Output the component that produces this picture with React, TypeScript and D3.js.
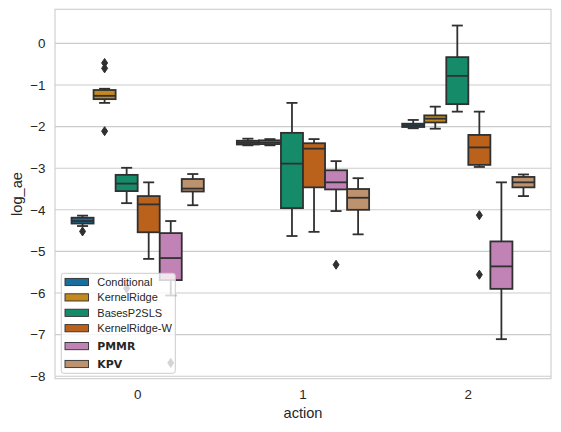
import React from "react";
import * as d3 from "d3";

type Stat = { lo: number; q1: number; med: number; q3: number; hi: number; fliers: number[] };

// x categories
const actions = ["0", "1", "2"];
// hue order
const methods = ["Conditional", "KernelRidge", "BasesP2SLS", "KernelRidge-W", "PMMR", "KPV"];
const boldMethods = ["PMMR", "KPV"];
const colors = ["#176d9c", "#c38820", "#168b6a", "#ba611b", "#c183b5", "#bd926e"];
const yTicks = [0, -1, -2, -3, -4, -5, -6, -7, -8];

// box statistics per method, one per action
const conditional: Stat[] = [
  { lo: -4.39, q1: -4.33, med: -4.27, q3: -4.19, hi: -4.14, fliers: [-4.52] },
  { lo: -2.45, q1: -2.43, med: -2.39, q3: -2.34, hi: -2.29, fliers: [] },
  { lo: -2.04, q1: -2.01, med: -1.97, q3: -1.93, hi: -1.84, fliers: [] },
];
const kernelRidge: Stat[] = [
  { lo: -1.43, q1: -1.34, med: -1.26, q3: -1.12, hi: -1.09, fliers: [-0.47, -0.6, -2.11] },
  { lo: -2.45, q1: -2.42, med: -2.38, q3: -2.33, hi: -2.3, fliers: [] },
  { lo: -2.05, q1: -1.9, med: -1.81, q3: -1.73, hi: -1.52, fliers: [] },
];
const basesP2SLS: Stat[] = [
  { lo: -3.84, q1: -3.55, med: -3.37, q3: -3.16, hi: -2.99, fliers: [-5.89] },
  { lo: -4.63, q1: -3.96, med: -2.89, q3: -2.15, hi: -1.43, fliers: [] },
  { lo: -1.64, q1: -1.46, med: -0.78, q3: -0.33, hi: 0.43, fliers: [] },
];
const kernelRidgeW: Stat[] = [
  { lo: -5.18, q1: -4.54, med: -3.87, q3: -3.67, hi: -3.34, fliers: [] },
  { lo: -4.53, q1: -3.46, med: -2.53, q3: -2.4, hi: -2.3, fliers: [] },
  { lo: -2.97, q1: -2.92, med: -2.5, q3: -2.2, hi: -1.64, fliers: [-4.13, -5.56] },
];
const pmmr: Stat[] = [
  { lo: -6.06, q1: -5.69, med: -5.16, q3: -4.56, hi: -4.27, fliers: [-7.68] },
  { lo: -4.03, q1: -3.51, med: -3.34, q3: -3.05, hi: -2.83, fliers: [-5.32] },
  { lo: -7.11, q1: -5.9, med: -5.36, q3: -4.76, hi: -3.34, fliers: [] },
];
const kpv: Stat[] = [
  { lo: -3.89, q1: -3.56, med: -3.49, q3: -3.26, hi: -3.14, fliers: [] },
  { lo: -4.59, q1: -4.0, med: -3.71, q3: -3.5, hi: -3.24, fliers: [] },
  { lo: -3.67, q1: -3.46, med: -3.34, q3: -3.21, hi: -3.15, fliers: [] },
];
const allStats = [conditional, kernelRidge, basesP2SLS, kernelRidgeW, pmmr, kpv];

const W = 561, H = 432;
const L = 55, R = 551, T = 9.3, B = 378.7;
const GRAY = "#303030";
const TEXT = "#262626";
const FONT = "'Liberation Sans', Arial, sans-serif";

export default function App() {
  const x = d3.scaleBand<string>().domain(actions).range([L, R]).paddingInner(0).paddingOuter(0);
  const hue = d3.scaleBand<string>().domain(methods).range([0, x.bandwidth() * 0.8]);
  const y = d3.scaleLinear().domain([-8.06, 0.82]).range([B, T]);
  const bw = hue.bandwidth();
  const off = x.bandwidth() * 0.1;
  const lw = 1.8;
  const fmt = (v: number) => (v < 0 ? "\u2212" + Math.abs(v) : String(v));

  const boxes: React.ReactNode[] = [];
  actions.forEach((a, ai) => {
    methods.forEach((m, mi) => {
      const s = allStats[mi][ai];
      const cx = (x(a) as number) + off + (hue(m) as number) + bw / 2;
      const x0 = cx - bw / 2;
      const capW = bw / 2;
      boxes.push(
        <g key={a + m}>
          <line x1={cx} x2={cx} y1={y(s.hi)} y2={y(s.q3)} stroke={GRAY} strokeWidth={lw} />
          <line x1={cx} x2={cx} y1={y(s.q1)} y2={y(s.lo)} stroke={GRAY} strokeWidth={lw} />
          <line x1={cx - capW / 2} x2={cx + capW / 2} y1={y(s.hi)} y2={y(s.hi)} stroke={GRAY} strokeWidth={lw} />
          <line x1={cx - capW / 2} x2={cx + capW / 2} y1={y(s.lo)} y2={y(s.lo)} stroke={GRAY} strokeWidth={lw} />
          <rect x={x0} y={y(s.q3)} width={bw} height={y(s.q1) - y(s.q3)} fill={colors[mi]} stroke={GRAY} strokeWidth={lw} />
          <line x1={x0} x2={x0 + bw} y1={y(s.med)} y2={y(s.med)} stroke={GRAY} strokeWidth={lw} />
          {s.fliers.map((f, fi) => {
            const fy = y(f);
            return (
              <path key={fi} d={`M${cx},${fy - 4.5}L${cx + 3},${fy}L${cx},${fy + 4.5}L${cx - 3},${fy}Z`} fill={GRAY} stroke={GRAY} strokeWidth={1} />
            );
          })}
        </g>
      );
    });
  });

  // legend layout
  const legX = 61.3, legY = 273.3, legW = 114, legH = 100;
  let cy = 282;
  const rows = methods.map((m, i) => {
    const bold = boldMethods.includes(m);
    if (i > 0) {
      const prevBold = boldMethods.includes(methods[i - 1]);
      cy += bold || prevBold ? 17.9 : 15.4;
    }
    return { m, i, bold, cy };
  });

  return (
    <svg width={W} height={H} style={{ position: "absolute", left: 0, top: 0, background: "#fff" }}>
      <rect x={0} y={0} width={W} height={H} fill="#fff" />
      {yTicks.map((t) => (
        <line key={t} x1={L} x2={R} y1={y(t)} y2={y(t)} stroke="#cccccc" strokeWidth={1.1} />
      ))}
      <rect x={L} y={T} width={R - L} height={B - T} fill="none" stroke="#cccccc" strokeWidth={1.1} />
      {boxes}
      {yTicks.map((t) => (
        <text key={t} x={45.5} y={y(t)} dy="0.36em" textAnchor="end" fontFamily={FONT} fontSize={13.4} fill={TEXT}>
          {fmt(t)}
        </text>
      ))}
      {actions.map((a) => (
        <text key={a} x={(x(a) as number) + x.bandwidth() / 2} y={399} textAnchor="middle" fontFamily={FONT} fontSize={13.4} fill={TEXT}>
          {a}
        </text>
      ))}
      <text x={(L + R) / 2} y={418} textAnchor="middle" fontFamily={FONT} fontSize={14.6} fill={TEXT}>
        action
      </text>
      <text
        transform={`translate(17,${(T + B) / 2}) rotate(-90)`}
        textAnchor="middle"
        dy="0.36em"
        fontFamily={FONT}
        fontSize={14.6}
        fill={TEXT}
      >
        log_ae
      </text>
      <g>
        <rect x={legX} y={legY} width={legW} height={legH} rx={2.5} fill="#fff" fillOpacity={0.8} stroke="#cccccc" strokeWidth={1} />
        {rows.map((r) => (
          <g key={r.m}>
            <rect x={65} y={r.cy - 3.6} width={23.5} height={7.2} fill={colors[r.i]} stroke={GRAY} strokeWidth={0.9} />
            <text
              x={97.3}
              y={r.cy}
              dy="0.36em"
              fontFamily={r.bold ? "'DejaVu Sans', sans-serif" : FONT}
              fontWeight={r.bold ? "bold" : "normal"}
              fontSize={r.bold ? 10.9 : 11}
              fill={TEXT}
            >
              {r.m}
            </text>
          </g>
        ))}
      </g>
    </svg>
  );
}
